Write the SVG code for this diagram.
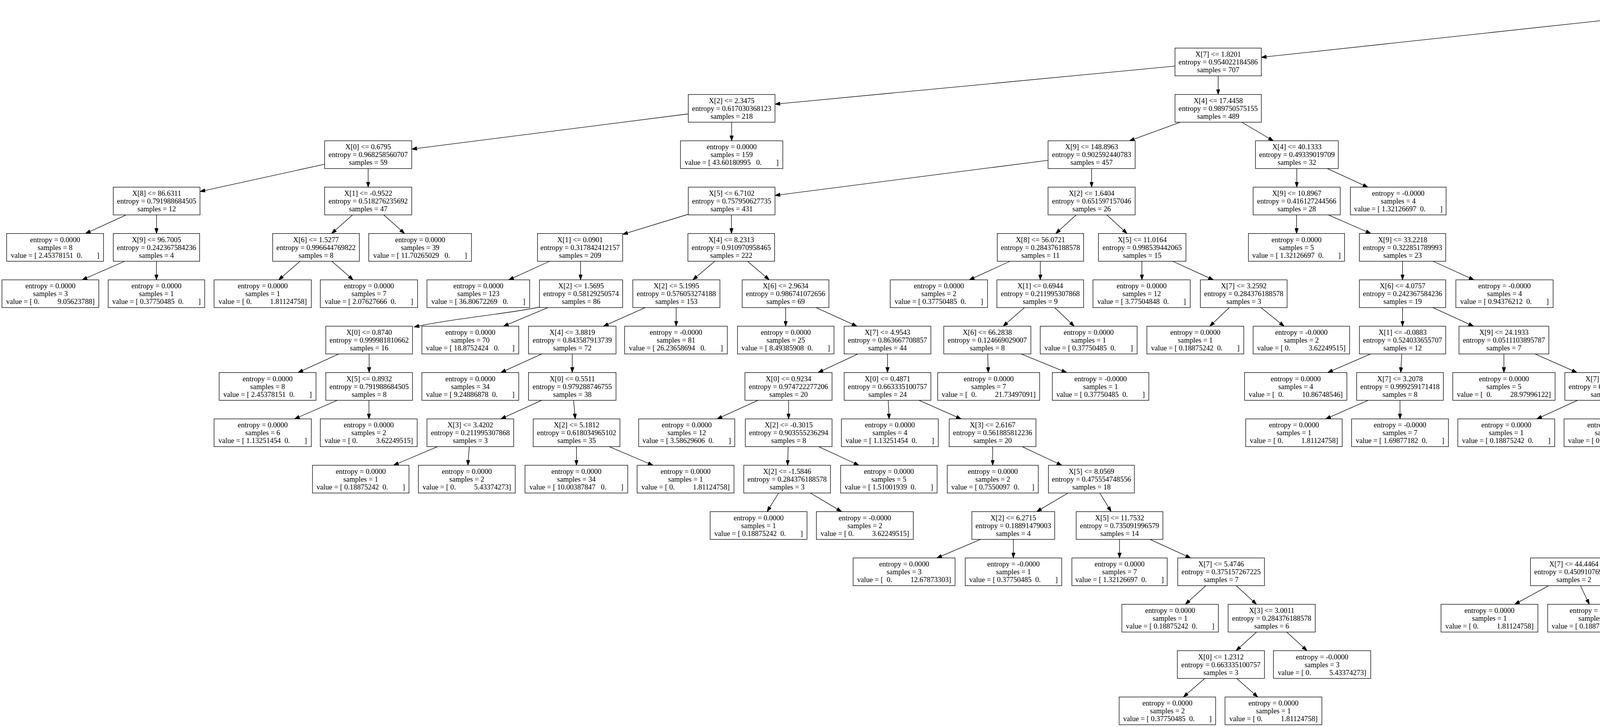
<svg xmlns="http://www.w3.org/2000/svg" width="7716" height="1861" viewBox="0 0 7716 1861" xml:space="preserve">
<style>
.n rect{fill:#fff;stroke:#000;stroke-width:1.33}
.n text{font-family:"Liberation Serif","Times New Roman",serif;font-size:18.67px;text-anchor:middle;fill:#000;white-space:pre}
.e line,.e path{stroke:#000;stroke-width:1.33;fill:none;marker-end:url(#arr)}
</style>
<defs><marker id="arr" markerUnits="userSpaceOnUse" viewBox="0 0 13.3 9.4" markerWidth="13.3" markerHeight="9.4" refX="13.3" refY="4.7" orient="auto"><path d="M0,0 L13.3,4.7 L0,9.4 z" fill="#000" stroke="#000" stroke-width="1"/></marker></defs>
<rect width="7716" height="1861" fill="#fff"/>
<g id="edges" class="e">
<line x1="4144" y1="48" x2="3229" y2="146.7"/>
<line x1="4293" y1="48" x2="5208" y2="146.6"/>
<line x1="3008" y1="169.2" x2="1984" y2="266.7"/>
<line x1="3118.5" y1="194.15" x2="3118.5" y2="241.8"/>
<line x1="5319.5" y1="194.15" x2="5319.5" y2="241.8"/>
<line x1="5431" y1="180.9" x2="5808" y2="256.1"/>
<line x1="1762" y1="291.5" x2="1054" y2="381.7"/>
<line x1="1873" y1="312.8" x2="1873" y2="360.45"/>
<line x1="3021.6" y1="312.8" x2="2891.4" y2="360.45"/>
<line x1="3178.8" y1="312.8" x2="3259.7" y2="360.45"/>
<line x1="5280.8" y1="312.8" x2="5228.7" y2="360.45"/>
<line x1="5358.7" y1="312.8" x2="5411.3" y2="360.45"/>
<line x1="5914" y1="312.8" x2="5914" y2="360.45"/>
<line x1="6020" y1="304.1" x2="6272" y2="367.8"/>
<line x1="831" y1="420.4" x2="512" y2="490.3"/>
<line x1="942.5" y1="431.45" x2="942.5" y2="479.1"/>
<line x1="2683" y1="410.3" x2="1984" y2="500.3"/>
<line x1="2794.5" y1="431.45" x2="2794.5" y2="479.1"/>
<line x1="3319.75" y1="431.45" x2="3319.75" y2="479.1"/>
<line x1="3397.6" y1="431.45" x2="3501.9" y2="479.1"/>
<line x1="5112.4" y1="431.45" x2="5008.1" y2="479.1"/>
<line x1="5190" y1="431.45" x2="5190" y2="479.1"/>
<line x1="5450.5" y1="431.45" x2="5450.5" y2="479.1"/>
<line x1="5528.1" y1="431.45" x2="5632.4" y2="479.1"/>
<line x1="6383.5" y1="431.45" x2="6383.5" y2="479.1"/>
<line x1="6495" y1="429.5" x2="6666" y2="481"/>
<line x1="323.2" y1="550.1" x2="218.8" y2="597.75"/>
<line x1="400.75" y1="550.1" x2="400.75" y2="597.75"/>
<line x1="902.6" y1="550.1" x2="848.9" y2="597.75"/>
<line x1="982.3" y1="550.1" x2="1035.7" y2="597.75"/>
<line x1="1762" y1="548.5" x2="1594" y2="599.9"/>
<line x1="1872.5" y1="550.1" x2="1872.5" y2="597.75"/>
<line x1="2755.3" y1="550.1" x2="2702.7" y2="597.75"/>
<line x1="2833.2" y1="550.1" x2="2885.3" y2="597.75"/>
<line x1="3319.25" y1="550.1" x2="3319.25" y2="597.75"/>
<line x1="3400.6" y1="550.1" x2="3509.4" y2="597.75"/>
<line x1="5109.8" y1="550.1" x2="5002.2" y2="597.75"/>
<line x1="5190.25" y1="550.1" x2="5190.25" y2="597.75"/>
<line x1="5709.75" y1="550.1" x2="5709.75" y2="597.75"/>
<line x1="5787.9" y1="550.1" x2="5892.6" y2="597.75"/>
<line x1="6343.3" y1="550.1" x2="6289.2" y2="597.75"/>
<line x1="6423.3" y1="550.1" x2="6476.7" y2="597.75"/>
<line x1="6776.75" y1="550.1" x2="6776.75" y2="597.75"/>
<line x1="6855.1" y1="550.1" x2="6959.4" y2="597.75"/>
<line x1="319.3" y1="668.75" x2="210.2" y2="716.4"/>
<line x1="400.5" y1="668.75" x2="400.5" y2="716.4"/>
<line x1="768.2" y1="668.75" x2="713.3" y2="716.4"/>
<line x1="849.5" y1="668.75" x2="904" y2="716.4"/>
<line x1="1407.1" y1="668.75" x2="1302.4" y2="716.4"/>
<line x1="1486.25" y1="668.75" x2="1486.25" y2="716.4"/>
<line x1="1830" y1="668.75" x2="1773.5" y2="716.4"/>
<line x1="1913.6" y1="668.75" x2="1969.4" y2="716.4"/>
<line x1="2585.7" y1="668.75" x2="2481.3" y2="716.4"/>
<line x1="2663.25" y1="668.75" x2="2663.25" y2="716.4"/>
<line x1="2923.25" y1="668.75" x2="2923.25" y2="716.4"/>
<line x1="3001.8" y1="668.75" x2="3106.2" y2="716.4"/>
<line x1="3590.5" y1="668.75" x2="3590.5" y2="716.4"/>
<line x1="3668.6" y1="668.75" x2="3773.4" y2="716.4"/>
<line x1="4838.4" y1="668.75" x2="4726.1" y2="716.4"/>
<line x1="4921.75" y1="668.75" x2="4921.75" y2="716.4"/>
<line x1="5190" y1="668.75" x2="5190" y2="716.4"/>
<line x1="5268.4" y1="668.75" x2="5373.1" y2="716.4"/>
<line x1="5710.5" y1="668.75" x2="5710.5" y2="716.4"/>
<line x1="5790.3" y1="668.75" x2="5898.7" y2="716.4"/>
<line x1="6464" y1="668.75" x2="6393.5" y2="716.4"/>
<line x1="6545.2" y1="668.75" x2="6583.8" y2="716.4"/>
<line x1="6998.7" y1="668.75" x2="6947.3" y2="716.4"/>
<line x1="7076.5" y1="668.75" x2="7129.5" y2="716.4"/>
<path d="M1381,786 C1310,802 1160,815 1060,837"/>
<line x1="1402.7" y1="787.4" x2="1288.8" y2="835.05"/>
<line x1="1651.8" y1="787.4" x2="1544.7" y2="835.05"/>
<line x1="1731" y1="787.4" x2="1731" y2="835.05"/>
<line x1="2011.25" y1="787.4" x2="2011.25" y2="835.05"/>
<line x1="2089.1" y1="787.4" x2="2193.9" y2="835.05"/>
<line x1="2622.5" y1="787.4" x2="2568" y2="835.05"/>
<line x1="2700.1" y1="787.4" x2="2749.9" y2="835.05"/>
<line x1="3146.9" y1="787.4" x2="3097.1" y2="835.05"/>
<line x1="3228.1" y1="787.4" x2="3287.4" y2="835.05"/>
<line x1="3590.5" y1="787.4" x2="3590.5" y2="835.05"/>
<line x1="3668.1" y1="787.4" x2="3772.4" y2="835.05"/>
<line x1="5109.8" y1="787.4" x2="5002.7" y2="835.05"/>
<line x1="5188" y1="787.4" x2="5188" y2="835.05"/>
<line x1="5451.75" y1="787.4" x2="5451.75" y2="835.05"/>
<line x1="5531.5" y1="787.4" x2="5639.5" y2="835.05"/>
<line x1="5979.5" y1="787.4" x2="5979.5" y2="835.05"/>
<line x1="6061" y1="787.4" x2="6170.5" y2="835.05"/>
<line x1="7122.8" y1="787.4" x2="7060.7" y2="835.05"/>
<line x1="7197.3" y1="787.4" x2="7235.2" y2="835.05"/>
<line x1="867.2" y1="906.05" x2="762.8" y2="953.7"/>
<line x1="945" y1="906.05" x2="945" y2="953.7"/>
<line x1="1386.9" y1="906.05" x2="1282.1" y2="953.7"/>
<line x1="1465" y1="906.05" x2="1465" y2="953.7"/>
<line x1="2196.2" y1="906.05" x2="2094.3" y2="953.7"/>
<line x1="2272" y1="906.05" x2="2272" y2="953.7"/>
<line x1="2528.5" y1="906.05" x2="2530" y2="953.7"/>
<line x1="2614.3" y1="906.05" x2="2730.7" y2="953.7"/>
<line x1="3508.7" y1="906.05" x2="3398.8" y2="953.7"/>
<line x1="3588.6" y1="906.05" x2="3585.9" y2="953.7"/>
<line x1="3850" y1="906.05" x2="3850" y2="953.7"/>
<line x1="3929.9" y1="906.05" x2="4037.1" y2="953.7"/>
<line x1="4844" y1="906.05" x2="4738" y2="953.7"/>
<line x1="4923" y1="906.05" x2="4923" y2="953.7"/>
<line x1="5186.5" y1="906.05" x2="5186.5" y2="953.7"/>
<line x1="5262" y1="906.05" x2="5363.5" y2="953.7"/>
<line x1="5719.75" y1="906.05" x2="5719.75" y2="953.7"/>
<line x1="5798.8" y1="906.05" x2="5904.7" y2="953.7"/>
<line x1="6938.7" y1="906.05" x2="6836.8" y2="953.7"/>
<line x1="7016.3" y1="906.05" x2="7018.7" y2="953.7"/>
<line x1="7263.75" y1="906.05" x2="7263.75" y2="953.7"/>
<line x1="7339.2" y1="906.05" x2="7440.8" y2="953.7"/>
<line x1="863.5" y1="1024.7" x2="754" y2="1072.35"/>
<line x1="944.5" y1="1024.7" x2="944.5" y2="1072.35"/>
<line x1="1386.9" y1="1024.7" x2="1282.1" y2="1072.35"/>
<line x1="1468.3" y1="1024.7" x2="1472.7" y2="1072.35"/>
<line x1="1940.6" y1="1024.7" x2="1835.9" y2="1072.35"/>
<line x1="2018.75" y1="1024.7" x2="2018.75" y2="1072.35"/>
<line x1="2273.8" y1="1024.7" x2="2276.2" y2="1072.35"/>
<line x1="2352.5" y1="1024.7" x2="2460.5" y2="1072.35"/>
<line x1="3502.8" y1="1024.7" x2="3393.7" y2="1072.35"/>
<line x1="3584" y1="1024.7" x2="3584" y2="1072.35"/>
<line x1="4038.9" y1="1024.7" x2="3934.1" y2="1072.35"/>
<line x1="4120.1" y1="1024.7" x2="4124.4" y2="1072.35"/>
<line x1="4581.2" y1="1024.7" x2="4476.8" y2="1072.35"/>
<line x1="4659" y1="1024.7" x2="4659" y2="1072.35"/>
<line x1="5186.5" y1="1024.7" x2="5186.5" y2="1072.35"/>
<line x1="5266.2" y1="1024.7" x2="5373.3" y2="1072.35"/>
<line x1="5719" y1="1024.7" x2="5719" y2="1072.35"/>
<line x1="5799.4" y1="1024.7" x2="5906.6" y2="1072.35"/>
<line x1="6946.6" y1="1024.7" x2="6847.4" y2="1072.35"/>
<line x1="7022.1" y1="1024.7" x2="7024.4" y2="1072.35"/>
<line x1="7459.7" y1="1024.7" x2="7383.3" y2="1072.35"/>
<line x1="7537.3" y1="1024.7" x2="7565.2" y2="1072.35"/>
<line x1="1120.1" y1="1143.35" x2="1007.4" y2="1191"/>
<line x1="1201.3" y1="1143.35" x2="1197.7" y2="1191"/>
<line x1="1475.75" y1="1143.35" x2="1475.75" y2="1191"/>
<line x1="1559.5" y1="1143.35" x2="1671.5" y2="1191"/>
<line x1="2017.8" y1="1143.35" x2="2016.2" y2="1191"/>
<line x1="2095.7" y1="1143.35" x2="2198.8" y2="1191"/>
<line x1="2541.25" y1="1143.35" x2="2541.25" y2="1191"/>
<line x1="2616.7" y1="1143.35" x2="2718.3" y2="1191"/>
<line x1="4584.2" y1="1143.35" x2="4483.8" y2="1191"/>
<line x1="4657.75" y1="1143.35" x2="4657.75" y2="1191"/>
<line x1="5107.7" y1="1143.35" x2="5001.8" y2="1191"/>
<line x1="5188.6" y1="1143.35" x2="5191.4" y2="1191"/>
<line x1="5453.75" y1="1143.35" x2="5453.75" y2="1191"/>
<line x1="5531.2" y1="1143.35" x2="5636.3" y2="1191"/>
<line x1="5986.25" y1="1143.35" x2="5986.25" y2="1191"/>
<line x1="6068" y1="1143.35" x2="6177.5" y2="1191"/>
<line x1="6717.4" y1="1143.35" x2="6642.1" y2="1191"/>
<line x1="6798.6" y1="1143.35" x2="6832.4" y2="1191"/>
<line x1="7301.4" y1="1143.35" x2="7267.6" y2="1191"/>
<line x1="7382.6" y1="1143.35" x2="7457.9" y2="1191"/>
<line x1="1993.2" y1="1262" x2="1963.8" y2="1309.65"/>
<line x1="2074.5" y1="1262" x2="2154.5" y2="1309.65"/>
<line x1="2734.2" y1="1262" x2="2653.8" y2="1309.65"/>
<line x1="2815.5" y1="1262" x2="2844.5" y2="1309.65"/>
<line x1="4371.2" y1="1262" x2="4320.3" y2="1309.65"/>
<line x1="4446.8" y1="1262" x2="4497.7" y2="1309.65"/>
<line x1="5412.8" y1="1262" x2="5356.7" y2="1309.65"/>
<line x1="5496.1" y1="1262" x2="5551.9" y2="1309.65"/>
<line x1="2510.4" y1="1380.65" x2="2398.1" y2="1428.3"/>
<line x1="2594.25" y1="1380.65" x2="2594.25" y2="1428.3"/>
<line x1="2866" y1="1380.65" x2="2866" y2="1428.3"/>
<line x1="2943.8" y1="1380.65" x2="3048.2" y2="1428.3"/>
<line x1="4206.7" y1="1380.65" x2="4104.8" y2="1428.3"/>
<line x1="4282.5" y1="1380.65" x2="4282.5" y2="1428.3"/>
<line x1="4535.5" y1="1380.65" x2="4535.5" y2="1428.3"/>
<line x1="4615.1" y1="1380.65" x2="4721.9" y2="1428.3"/>
<line x1="3087" y1="1499.3" x2="3034.5" y2="1546.95"/>
<line x1="3164.7" y1="1499.3" x2="3216.8" y2="1546.95"/>
<line x1="3964.4" y1="1499.3" x2="3877.6" y2="1546.95"/>
<line x1="4045.9" y1="1499.3" x2="4068.6" y2="1546.95"/>
<line x1="4518.3" y1="1499.3" x2="4495.2" y2="1546.95"/>
<line x1="4602.1" y1="1499.3" x2="4691.4" y2="1546.95"/>
<line x1="3216.6" y1="1617.95" x2="3164.4" y2="1665.6"/>
<line x1="3294.1" y1="1617.95" x2="3345.9" y2="1665.6"/>
<line x1="3084.5" y1="1736.6" x2="3029.5" y2="1784.25"/>
<line x1="3165.7" y1="1736.6" x2="3219.8" y2="1784.25"/>
</g>
<g id="nodes" class="n">
<g id="n0" transform="translate(4218.5 4.5)"><rect x="-74.5" width="149" height="71"/><text y="22">X[7] &lt;= 11.0355</text><text y="42">entropy = 1.0</text><text y="62">samples = 989</text></g>
<g id="n1" transform="translate(3118.5 123.15)"><rect x="-110.5" width="221" height="71"/><text y="22">X[7] &lt;= 1.8201</text><text y="42">entropy = 0.954022184586</text><text y="62">samples = 707</text></g>
<g id="n2" transform="translate(5319.5 123.15)"><rect x="-111.5" width="223" height="71"/><text y="22">X[2] &lt;= 4.2328</text><text y="42">entropy = 0.907354966354</text><text y="62">samples = 282</text></g>
<g id="n3" transform="translate(1873 241.8)"><rect x="-111" width="222" height="71"/><text y="22">X[2] &lt;= 2.3475</text><text y="42">entropy = 0.617030368123</text><text y="62">samples = 218</text></g>
<g id="n4" transform="translate(3118.5 241.8)"><rect x="-110.5" width="221" height="71"/><text y="22">X[4] &lt;= 17.4458</text><text y="42">entropy = 0.989750575155</text><text y="62">samples = 489</text></g>
<g id="n5" transform="translate(5319.5 241.8)"><rect x="-111.5" width="223" height="71"/><text y="22">X[1] &lt;= 0.2014</text><text y="42">entropy = 0.738921728024</text><text y="62">samples = 144</text></g>
<g id="n6" transform="translate(5914 241.8)"><rect x="-106" width="212" height="71"/><text y="22">X[9] &lt;= 7.8979</text><text y="42">entropy = 0.98356584352</text><text y="62">samples = 138</text></g>
<g id="n7" transform="translate(942.5 360.45)"><rect x="-111.5" width="223" height="71"/><text y="22">X[0] &lt;= 0.6795</text><text y="42">entropy = 0.968258560707</text><text y="62">samples = 59</text></g>
<g id="n8" transform="translate(1873 360.45)"><rect x="-131" width="262" height="71"/><text y="22">entropy = 0.0000</text><text y="42">samples = 159</text><text y="62">value = [ 43.60180995   0.        ]</text></g>
<g id="n9" transform="translate(2794.5 360.45)"><rect x="-111.5" width="223" height="71"/><text y="22">X[9] &lt;= 148.8963</text><text y="42">entropy = 0.902592440783</text><text y="62">samples = 457</text></g>
<g id="n10" transform="translate(3320 360.45)"><rect x="-106" width="212" height="71"/><text y="22">X[4] &lt;= 40.1333</text><text y="42">entropy = 0.49339019709</text><text y="62">samples = 32</text></g>
<g id="n11" transform="translate(5190 360.45)"><rect x="-111" width="222" height="71"/><text y="22">X[6] &lt;= 1.0680</text><text y="42">entropy = 0.597508438212</text><text y="62">samples = 96</text></g>
<g id="n12" transform="translate(5450.5 360.45)"><rect x="-106.5" width="213" height="71"/><text y="22">X[6] &lt;= 2.7206</text><text y="42">entropy = 0.94890263836</text><text y="62">samples = 48</text></g>
<g id="n13" transform="translate(5914 360.45)"><rect x="-131" width="262" height="71"/><text y="22">entropy = 0.0000</text><text y="42">samples = 28</text><text y="62">value = [ 10.75888817   0.        ]</text></g>
<g id="n14" transform="translate(6383.5 360.45)"><rect x="-111.5" width="223" height="71"/><text y="22">X[9] &lt;= 13.8934</text><text y="42">entropy = 0.999950045454</text><text y="62">samples = 110</text></g>
<g id="n15" transform="translate(401 479.1)"><rect x="-111" width="222" height="71"/><text y="22">X[8] &lt;= 86.6311</text><text y="42">entropy = 0.791988684505</text><text y="62">samples = 12</text></g>
<g id="n16" transform="translate(942.5 479.1)"><rect x="-111.5" width="223" height="71"/><text y="22">X[1] &lt;= -0.9522</text><text y="42">entropy = 0.518276235692</text><text y="62">samples = 47</text></g>
<g id="n17" transform="translate(1873 479.1)"><rect x="-111" width="222" height="71"/><text y="22">X[5] &lt;= 6.7102</text><text y="42">entropy = 0.757950627735</text><text y="62">samples = 431</text></g>
<g id="n18" transform="translate(2794.5 479.1)"><rect x="-111.5" width="223" height="71"/><text y="22">X[2] &lt;= 1.6404</text><text y="42">entropy = 0.651597157046</text><text y="62">samples = 26</text></g>
<g id="n19" transform="translate(3319.5 479.1)"><rect x="-111.5" width="223" height="71"/><text y="22">X[9] &lt;= 10.8967</text><text y="42">entropy = 0.416127244566</text><text y="62">samples = 28</text></g>
<g id="n20" transform="translate(3579.5 479.1)"><rect x="-122.5" width="245" height="71"/><text y="22">entropy = -0.0000</text><text y="42">samples = 4</text><text y="62">value = [ 1.32126697  0.        ]</text></g>
<g id="n21" transform="translate(4930.5 479.1)"><rect x="-123.5" width="247" height="71"/><text y="22">entropy = 0.0000</text><text y="42">samples = 3</text><text y="62">value = [ 0.          9.05623788]</text></g>
<g id="n22" transform="translate(5190 479.1)"><rect x="-111" width="222" height="71"/><text y="22">X[8] &lt;= 52.6871</text><text y="42">entropy = 0.624343025209</text><text y="62">samples = 93</text></g>
<g id="n23" transform="translate(5450.5 479.1)"><rect x="-123.5" width="247" height="71"/><text y="22">entropy = 0.0000</text><text y="42">samples = 23</text><text y="62">value = [ 6.41758242  0.        ]</text></g>
<g id="n24" transform="translate(5710 479.1)"><rect x="-111" width="222" height="71"/><text y="22">X[6] &lt;= 3.0070</text><text y="42">entropy = 0.994058102649</text><text y="62">samples = 25</text></g>
<g id="n25" transform="translate(6383.5 479.1)"><rect x="-111.5" width="223" height="71"/><text y="22">X[1] &lt;= -0.0407</text><text y="42">entropy = 0.663335100757</text><text y="62">samples = 21</text></g>
<g id="n26" transform="translate(6777.5 479.1)"><rect x="-111.5" width="223" height="71"/><text y="22">X[0] &lt;= 0.6689</text><text y="42">entropy = 0.843041243358</text><text y="62">samples = 89</text></g>
<g id="A" transform="translate(141 597.75)"><rect x="-124" width="248" height="71"/><text y="22">entropy = 0.0000</text><text y="42">samples = 8</text><text y="62">value = [ 2.45378151  0.        ]</text></g>
<g id="B" transform="translate(400.5 597.75)"><rect x="-110.5" width="221" height="71"/><text y="22">X[9] &lt;= 96.7005</text><text y="42">entropy = 0.242367584236</text><text y="62">samples = 4</text></g>
<g id="C" transform="translate(809 597.75)"><rect x="-111" width="222" height="71"/><text y="22">X[6] &lt;= 1.5277</text><text y="42">entropy = 0.996644769822</text><text y="62">samples = 8</text></g>
<g id="D" transform="translate(1075.5 597.75)"><rect x="-131.5" width="263" height="71"/><text y="22">entropy = 0.0000</text><text y="42">samples = 39</text><text y="62">value = [ 11.70265029   0.        ]</text></g>
<g id="E" transform="translate(1485 597.75)"><rect x="-109" width="218" height="71"/><text y="22">X[1] &lt;= 0.0901</text><text y="42">entropy = 0.317842412157</text><text y="62">samples = 209</text></g>
<g id="F" transform="translate(1872 597.75)"><rect x="-111" width="222" height="71"/><text y="22">X[4] &lt;= 8.2313</text><text y="42">entropy = 0.910970958465</text><text y="62">samples = 222</text></g>
<g id="BA" transform="translate(2663.5 597.75)"><rect x="-110.5" width="221" height="71"/><text y="22">X[8] &lt;= 56.0721</text><text y="42">entropy = 0.284376188578</text><text y="62">samples = 11</text></g>
<g id="BB" transform="translate(2924 597.75)"><rect x="-112" width="224" height="71"/><text y="22">X[5] &lt;= 11.0164</text><text y="42">entropy = 0.998539442065</text><text y="62">samples = 15</text></g>
<g id="BC" transform="translate(3319 597.75)"><rect x="-123" width="246" height="71"/><text y="22">entropy = 0.0000</text><text y="42">samples = 5</text><text y="62">value = [ 1.32126697  0.        ]</text></g>
<g id="BD" transform="translate(3590.5 597.75)"><rect x="-110.5" width="221" height="71"/><text y="22">X[9] &lt;= 33.2218</text><text y="42">entropy = 0.322851789993</text><text y="62">samples = 23</text></g>
<g id="DA" transform="translate(4922 597.75)"><rect x="-115" width="230" height="71"/><text y="22">X[8] &lt;= 41.8436</text><text y="42">entropy = 0.0902367814789</text><text y="62">samples = 4</text></g>
<g id="DB" transform="translate(5190.5 597.75)"><rect x="-111.5" width="223" height="71"/><text y="22">X[5] &lt;= 12.1820</text><text y="42">entropy = 0.676518989019</text><text y="62">samples = 89</text></g>
<g id="DC" transform="translate(5709.5 597.75)"><rect x="-110.5" width="221" height="71"/><text y="22">X[2] &lt;= 2.2306</text><text y="42">entropy = 0.170724623855</text><text y="62">samples = 4</text></g>
<g id="EP" transform="translate(5970.5 597.75)"><rect x="-123.5" width="247" height="71"/><text y="22">entropy = 0.0000</text><text y="42">samples = 21</text><text y="62">value = [ 5.85132515  0.        ]</text></g>
<g id="EQ" transform="translate(6249 597.75)"><rect x="-130" width="260" height="71"/><text y="22">entropy = 0.0000</text><text y="42">samples = 4</text><text y="62">value = [  0.          14.48998061]</text></g>
<g id="ER" transform="translate(6516.5 597.75)"><rect x="-111.5" width="223" height="71"/><text y="22">X[1] &lt;= 54.4970</text><text y="42">entropy = 0.987076807922</text><text y="62">samples = 17</text></g>
<g id="ES" transform="translate(6776 597.75)"><rect x="-123" width="246" height="71"/><text y="22">entropy = 0.0000</text><text y="42">samples = 25</text><text y="62">value = [ 7.17259211  0.        ]</text></g>
<g id="ET" transform="translate(7037 597.75)"><rect x="-111" width="222" height="71"/><text y="22">X[2] &lt;= 5.5699</text><text y="42">entropy = 0.929732925573</text><text y="62">samples = 64</text></g>
<g id="G" transform="translate(129 716.4)"><rect x="-124" width="248" height="71"/><text y="22">entropy = 0.0000</text><text y="42">samples = 3</text><text y="62">value = [ 0.          9.05623788]</text></g>
<g id="H" transform="translate(400.5 716.4)"><rect x="-123.5" width="247" height="71"/><text y="22">entropy = 0.0000</text><text y="42">samples = 1</text><text y="62">value = [ 0.37750485  0.        ]</text></g>
<g id="I" transform="translate(672.5 716.4)"><rect x="-124.5" width="249" height="71"/><text y="22">entropy = 0.0000</text><text y="42">samples = 1</text><text y="62">value = [ 0.          1.81124758]</text></g>
<g id="J" transform="translate(944.5 716.4)"><rect x="-124.5" width="249" height="71"/><text y="22">entropy = 0.0000</text><text y="42">samples = 7</text><text y="62">value = [ 2.07627666  0.        ]</text></g>
<g id="K" transform="translate(1224.5 716.4)"><rect x="-131.5" width="263" height="71"/><text y="22">entropy = 0.0000</text><text y="42">samples = 123</text><text y="62">value = [ 36.80672269   0.        ]</text></g>
<g id="L" transform="translate(1487.5 716.4)"><rect x="-106.5" width="213" height="71"/><text y="22">X[2] &lt;= 1.5695</text><text y="42">entropy = 0.58129250574</text><text y="62">samples = 86</text></g>
<g id="M" transform="translate(1731.5 716.4)"><rect x="-111.5" width="223" height="71"/><text y="22">X[2] &lt;= 5.1995</text><text y="42">entropy = 0.576053274188</text><text y="62">samples = 153</text></g>
<g id="N" transform="translate(2011 716.4)"><rect x="-111" width="222" height="71"/><text y="22">X[6] &lt;= 2.9634</text><text y="42">entropy = 0.986741072656</text><text y="62">samples = 69</text></g>
<g id="BE" transform="translate(2403.5 716.4)"><rect x="-124.5" width="249" height="71"/><text y="22">entropy = 0.0000</text><text y="42">samples = 2</text><text y="62">value = [ 0.37750485  0.        ]</text></g>
<g id="BF" transform="translate(2663 716.4)"><rect x="-111" width="222" height="71"/><text y="22">X[1] &lt;= 0.6944</text><text y="42">entropy = 0.211995307868</text><text y="62">samples = 9</text></g>
<g id="BG" transform="translate(2922.5 716.4)"><rect x="-124.5" width="249" height="71"/><text y="22">entropy = 0.0000</text><text y="42">samples = 12</text><text y="62">value = [ 3.77504848  0.        ]</text></g>
<g id="BH" transform="translate(3184 716.4)"><rect x="-111" width="222" height="71"/><text y="22">X[7] &lt;= 3.2592</text><text y="42">entropy = 0.284376188578</text><text y="62">samples = 3</text></g>
<g id="BI" transform="translate(3590.5 716.4)"><rect x="-110.5" width="221" height="71"/><text y="22">X[6] &lt;= 4.0757</text><text y="42">entropy = 0.242367584236</text><text y="62">samples = 19</text></g>
<g id="BJ" transform="translate(3851.5 716.4)"><rect x="-124.5" width="249" height="71"/><text y="22">entropy = -0.0000</text><text y="42">samples = 4</text><text y="62">value = [ 0.94376212  0.        ]</text></g>
<g id="DD" transform="translate(4642.5 716.4)"><rect x="-123.5" width="247" height="71"/><text y="22">entropy = 0.0000</text><text y="42">samples = 1</text><text y="62">value = [ 0.18875242  0.        ]</text></g>
<g id="DE" transform="translate(4921.5 716.4)"><rect x="-130.5" width="261" height="71"/><text y="22">entropy = 0.0000</text><text y="42">samples = 3</text><text y="62">value = [  0.          16.30122818]</text></g>
<g id="DF" transform="translate(5189.5 716.4)"><rect x="-110.5" width="221" height="71"/><text y="22">X[2] &lt;= 0.9026</text><text y="42">entropy = 0.821406328899</text><text y="62">samples = 77</text></g>
<g id="DG" transform="translate(5451 716.4)"><rect x="-111" width="222" height="71"/><text y="22">X[1] &lt;= -0.1263</text><text y="42">entropy = 0.149606672904</text><text y="62">samples = 12</text></g>
<g id="DH" transform="translate(5711.5 716.4)"><rect x="-123.5" width="247" height="71"/><text y="22">entropy = 0.0000</text><text y="42">samples = 2</text><text y="62">value = [ 0.          5.43374273]</text></g>
<g id="EU" transform="translate(5979.5 716.4)"><rect x="-110.5" width="221" height="71"/><text y="22">X[3] &lt;= 2.9400</text><text y="42">entropy = 0.450910769465</text><text y="62">samples = 2</text></g>
<g id="EV" transform="translate(6341 716.4)"><rect x="-124" width="248" height="71"/><text y="22">entropy = 0.0000</text><text y="42">samples = 16</text><text y="62">value = [ 4.15255333  0.        ]</text></g>
<g id="EW" transform="translate(6612.5 716.4)"><rect x="-123.5" width="247" height="71"/><text y="22">entropy = 0.0000</text><text y="42">samples = 1</text><text y="62">value = [ 0.          5.43374273]</text></g>
<g id="EX" transform="translate(6909 716.4)"><rect x="-124" width="248" height="71"/><text y="22">entropy = 0.0000</text><text y="42">samples = 27</text><text y="62">value = [ 8.49385908  0.        ]</text></g>
<g id="EY" transform="translate(7169 716.4)"><rect x="-111" width="222" height="71"/><text y="22">X[5] &lt;= 15.2323</text><text y="42">entropy = 0.999679962539</text><text y="62">samples = 37</text></g>
<g id="O" transform="translate(945 835.05)"><rect x="-111" width="222" height="71"/><text y="22">X[0] &lt;= 0.8740</text><text y="42">entropy = 0.999981810662</text><text y="62">samples = 16</text></g>
<g id="P" transform="translate(1204 835.05)"><rect x="-124" width="248" height="71"/><text y="22">entropy = 0.0000</text><text y="42">samples = 70</text><text y="62">value = [ 18.8752424   0.       ]</text></g>
<g id="Q" transform="translate(1465 835.05)"><rect x="-112" width="224" height="71"/><text y="22">X[4] &lt;= 3.8819</text><text y="42">entropy = 0.843587913739</text><text y="62">samples = 72</text></g>
<g id="R" transform="translate(1730.5 835.05)"><rect x="-131.5" width="263" height="71"/><text y="22">entropy = -0.0000</text><text y="42">samples = 81</text><text y="62">value = [ 26.23658694   0.        ]</text></g>
<g id="S" transform="translate(2011.5 835.05)"><rect x="-123.5" width="247" height="71"/><text y="22">entropy = 0.0000</text><text y="42">samples = 25</text><text y="62">value = [ 8.49385908  0.        ]</text></g>
<g id="BK" transform="translate(2272 835.05)"><rect x="-111" width="222" height="71"/><text y="22">X[7] &lt;= 4.9543</text><text y="42">entropy = 0.863667708857</text><text y="62">samples = 44</text></g>
<g id="BL" transform="translate(2527.5 835.05)"><rect x="-111.5" width="223" height="71"/><text y="22">X[6] &lt;= 66.2838</text><text y="42">entropy = 0.124669029007</text><text y="62">samples = 8</text></g>
<g id="BM" transform="translate(2787 835.05)"><rect x="-124" width="248" height="71"/><text y="22">entropy = 0.0000</text><text y="42">samples = 1</text><text y="62">value = [ 0.37750485  0.        ]</text></g>
<g id="BN" transform="translate(3060 835.05)"><rect x="-124" width="248" height="71"/><text y="22">entropy = 0.0000</text><text y="42">samples = 1</text><text y="62">value = [ 0.18875242  0.        ]</text></g>
<g id="BO" transform="translate(3331.5 835.05)"><rect x="-123.5" width="247" height="71"/><text y="22">entropy = -0.0000</text><text y="42">samples = 2</text><text y="62">value = [ 0.          3.62249515]</text></g>
<g id="BP" transform="translate(3590.5 835.05)"><rect x="-110.5" width="221" height="71"/><text y="22">X[1] &lt;= -0.0883</text><text y="42">entropy = 0.524033655707</text><text y="62">samples = 12</text></g>
<g id="BQ" transform="translate(3850 835.05)"><rect x="-115" width="230" height="71"/><text y="22">X[9] &lt;= 24.1933</text><text y="42">entropy = 0.0511103895787</text><text y="62">samples = 7</text></g>
<g id="DI" transform="translate(4923 835.05)"><rect x="-111" width="222" height="71"/><text y="22">X[5] &lt;= 5.1550</text><text y="42">entropy = 0.598934173341</text><text y="62">samples = 31</text></g>
<g id="DJ" transform="translate(5186.5 835.05)"><rect x="-111.5" width="223" height="71"/><text y="22">X[8] &lt;= 110.3907</text><text y="42">entropy = 0.997704988686</text><text y="62">samples = 46</text></g>
<g id="DK" transform="translate(5452.5 835.05)"><rect x="-130.5" width="261" height="71"/><text y="22">entropy = 0.0000</text><text y="42">samples = 4</text><text y="62">value = [  0.          18.11247576]</text></g>
<g id="DL" transform="translate(5720 835.05)"><rect x="-112" width="224" height="71"/><text y="22">X[8] &lt;= 112.4653</text><text y="42">entropy = 0.261520386201</text><text y="62">samples = 8</text></g>
<g id="EZ" transform="translate(5979.5 835.05)"><rect x="-123.5" width="247" height="71"/><text y="22">entropy = 0.0000</text><text y="42">samples = 1</text><text y="62">value = [ 0.          1.81124758]</text></g>
<g id="FA" transform="translate(6252 835.05)"><rect x="-123" width="246" height="71"/><text y="22">entropy = -0.0000</text><text y="42">samples = 1</text><text y="62">value = [ 0.18875242  0.        ]</text></g>
<g id="FB" transform="translate(7014.5 835.05)"><rect x="-110.5" width="221" height="71"/><text y="22">X[5] &lt;= -2.2148</text><text y="42">entropy = 0.920515158544</text><text y="62">samples = 27</text></g>
<g id="FC" transform="translate(7263.5 835.05)"><rect x="-110.5" width="221" height="71"/><text y="22">X[4] &lt;= 0.5853</text><text y="42">entropy = 0.75551002592</text><text y="62">samples = 10</text></g>
<g id="T" transform="translate(685 953.7)"><rect x="-124" width="248" height="71"/><text y="22">entropy = 0.0000</text><text y="42">samples = 8</text><text y="62">value = [ 2.45378151  0.        ]</text></g>
<g id="U" transform="translate(945 953.7)"><rect x="-111" width="222" height="71"/><text y="22">X[5] &lt;= 0.8932</text><text y="42">entropy = 0.791988684505</text><text y="62">samples = 8</text></g>
<g id="V" transform="translate(1204 953.7)"><rect x="-124" width="248" height="71"/><text y="22">entropy = 0.0000</text><text y="42">samples = 34</text><text y="62">value = [ 9.24886878  0.        ]</text></g>
<g id="W" transform="translate(1465 953.7)"><rect x="-112" width="224" height="71"/><text y="22">X[0] &lt;= 0.5511</text><text y="42">entropy = 0.979288746755</text><text y="62">samples = 38</text></g>
<g id="X" transform="translate(2018.5 953.7)"><rect x="-111.5" width="223" height="71"/><text y="22">X[0] &lt;= 0.9234</text><text y="42">entropy = 0.974722277206</text><text y="62">samples = 20</text></g>
<g id="BR" transform="translate(2272 953.7)"><rect x="-111" width="222" height="71"/><text y="22">X[0] &lt;= 0.4871</text><text y="42">entropy = 0.663335100757</text><text y="62">samples = 24</text></g>
<g id="BS" transform="translate(2531 953.7)"><rect x="-130.5" width="261" height="71"/><text y="22">entropy = 0.0000</text><text y="42">samples = 7</text><text y="62">value = [  0.          21.73497091]</text></g>
<g id="BT" transform="translate(2817.5 953.7)"><rect x="-123.5" width="247" height="71"/><text y="22">entropy = -0.0000</text><text y="42">samples = 1</text><text y="62">value = [ 0.37750485  0.        ]</text></g>
<g id="BU" transform="translate(3317 953.7)"><rect x="-131" width="262" height="71"/><text y="22">entropy = 0.0000</text><text y="42">samples = 4</text><text y="62">value = [  0.          10.86748546]</text></g>
<g id="BV" transform="translate(3584 953.7)"><rect x="-111" width="222" height="71"/><text y="22">X[7] &lt;= 3.2078</text><text y="42">entropy = 0.999259171418</text><text y="62">samples = 8</text></g>
<g id="BW" transform="translate(3850 953.7)"><rect x="-131" width="262" height="71"/><text y="22">entropy = 0.0000</text><text y="42">samples = 5</text><text y="62">value = [  0.          28.97996122]</text></g>
<g id="DM" transform="translate(4117 953.7)"><rect x="-111" width="222" height="71"/><text y="22">X[7] &lt;= 7.5217</text><text y="42">entropy = 0.284376188578</text><text y="62">samples = 2</text></g>
<g id="DN" transform="translate(4659 953.7)"><rect x="-111" width="222" height="71"/><text y="22">X[1] &lt;= -0.6134</text><text y="42">entropy = 0.424810811607</text><text y="62">samples = 24</text></g>
<g id="DO" transform="translate(4923 953.7)"><rect x="-123" width="246" height="71"/><text y="22">entropy = 0.0000</text><text y="42">samples = 7</text><text y="62">value = [ 3.02003878  0.        ]</text></g>
<g id="DP" transform="translate(5186.5 953.7)"><rect x="-111.5" width="223" height="71"/><text y="22">X[8] &lt;= 99.0365</text><text y="42">entropy = 0.899727373599</text><text y="62">samples = 27</text></g>
<g id="DQ" transform="translate(5439 953.7)"><rect x="-117" width="234" height="71"/><text y="22">entropy = 0.0000</text><text y="42">samples = 19</text><text y="62">value = [ 5.4738203  0.       ]</text></g>
<g id="DR" transform="translate(5719.5 953.7)"><rect x="-115.5" width="231" height="71"/><text y="22">X[1] &lt;= 0.0710</text><text y="42">entropy = 0.0902367814789</text><text y="62">samples = 5</text></g>
<g id="FD" transform="translate(5983.5 953.7)"><rect x="-123.5" width="247" height="71"/><text y="22">entropy = -0.0000</text><text y="42">samples = 3</text><text y="62">value = [ 0.56625727  0.        ]</text></g>
<g id="FE" transform="translate(6761 953.7)"><rect x="-124" width="248" height="71"/><text y="22">entropy = 0.0000</text><text y="42">samples = 1</text><text y="62">value = [ 0.          1.81124758]</text></g>
<g id="FF" transform="translate(7020.5 953.7)"><rect x="-110.5" width="221" height="71"/><text y="22">X[6] &lt;= 2.7687</text><text y="42">entropy = 0.72513989218</text><text y="62">samples = 26</text></g>
<g id="FG" transform="translate(7264 953.7)"><rect x="-117" width="234" height="71"/><text y="22">entropy = 0.0000</text><text y="42">samples = 4</text><text y="62">value = [ 0.7550097  0.       ]</text></g>
<g id="FH" transform="translate(7516.5 953.7)"><rect x="-110.5" width="221" height="71"/><text y="22">X[6] &lt;= 8.1896</text><text y="42">entropy = 0.535074282396</text><text y="62">samples = 6</text></g>
<g id="Y" transform="translate(672.5 1072.35)"><rect x="-124.5" width="249" height="71"/><text y="22">entropy = 0.0000</text><text y="42">samples = 6</text><text y="62">value = [ 1.13251454  0.        ]</text></g>
<g id="Z" transform="translate(944 1072.35)"><rect x="-124" width="248" height="71"/><text y="22">entropy = 0.0000</text><text y="42">samples = 2</text><text y="62">value = [ 0.          3.62249515]</text></g>
<g id="AA" transform="translate(1204 1072.35)"><rect x="-111" width="222" height="71"/><text y="22">X[3] &lt;= 3.4202</text><text y="42">entropy = 0.211995307868</text><text y="62">samples = 3</text></g>
<g id="AB" transform="translate(1476 1072.35)"><rect x="-111" width="222" height="71"/><text y="22">X[2] &lt;= 5.1812</text><text y="42">entropy = 0.618034965102</text><text y="62">samples = 35</text></g>
<g id="AC" transform="translate(1758 1072.35)"><rect x="-123" width="246" height="71"/><text y="22">entropy = 0.0000</text><text y="42">samples = 12</text><text y="62">value = [ 3.58629606  0.        ]</text></g>
<g id="AD" transform="translate(2019 1072.35)"><rect x="-111" width="222" height="71"/><text y="22">X[2] &lt;= -0.3015</text><text y="42">entropy = 0.903555236294</text><text y="62">samples = 8</text></g>
<g id="BX" transform="translate(2278 1072.35)"><rect x="-124" width="248" height="71"/><text y="22">entropy = 0.0000</text><text y="42">samples = 4</text><text y="62">value = [ 1.13251454  0.        ]</text></g>
<g id="BY" transform="translate(2541 1072.35)"><rect x="-111" width="222" height="71"/><text y="22">X[3] &lt;= 2.6167</text><text y="42">entropy = 0.561885812236</text><text y="62">samples = 20</text></g>
<g id="BZ" transform="translate(3312.5 1072.35)"><rect x="-123.5" width="247" height="71"/><text y="22">entropy = 0.0000</text><text y="42">samples = 1</text><text y="62">value = [ 0.          1.81124758]</text></g>
<g id="CA" transform="translate(3584 1072.35)"><rect x="-124" width="248" height="71"/><text y="22">entropy = -0.0000</text><text y="42">samples = 7</text><text y="62">value = [ 1.69877182  0.        ]</text></g>
<g id="CB" transform="translate(3856 1072.35)"><rect x="-124" width="248" height="71"/><text y="22">entropy = 0.0000</text><text y="42">samples = 1</text><text y="62">value = [ 0.18875242  0.        ]</text></g>
<g id="DS" transform="translate(4127.5 1072.35)"><rect x="-123.5" width="247" height="71"/><text y="22">entropy = 0.0000</text><text y="42">samples = 1</text><text y="62">value = [ 0.          3.62249515]</text></g>
<g id="DT" transform="translate(4399 1072.35)"><rect x="-124" width="248" height="71"/><text y="22">entropy = 0.0000</text><text y="42">samples = 4</text><text y="62">value = [ 1.51001939  0.        ]</text></g>
<g id="DU" transform="translate(4659 1072.35)"><rect x="-111" width="222" height="71"/><text y="22">X[9] &lt;= 43.3912</text><text y="42">entropy = 0.302263753974</text><text y="62">samples = 20</text></g>
<g id="DV" transform="translate(5186.5 1072.35)"><rect x="-111.5" width="223" height="71"/><text y="22">X[3] &lt;= 3.6590</text><text y="42">entropy = 0.863005038908</text><text y="62">samples = 19</text></g>
<g id="DW" transform="translate(5453 1072.35)"><rect x="-111" width="222" height="71"/><text y="22">X[6] &lt;= 6.8121</text><text y="42">entropy = 0.495072479648</text><text y="62">samples = 8</text></g>
<g id="DX" transform="translate(5718.5 1072.35)"><rect x="-130.5" width="261" height="71"/><text y="22">entropy = 0.0000</text><text y="42">samples = 3</text><text y="62">value = [  0.          12.67873303]</text></g>
<g id="FI" transform="translate(5986.5 1072.35)"><rect x="-110.5" width="221" height="71"/><text y="22">X[3] &lt;= 3.5148</text><text y="42">entropy = 0.284376188578</text><text y="62">samples = 2</text></g>
<g id="FJ" transform="translate(6773.5 1072.35)"><rect x="-111.5" width="223" height="71"/><text y="22">X[6] &lt;= 2.4498</text><text y="42">entropy = 0.943348135878</text><text y="62">samples = 10</text></g>
<g id="FK" transform="translate(7026 1072.35)"><rect x="-118" width="236" height="71"/><text y="22">entropy = -0.0000</text><text y="42">samples = 16</text><text y="62">value = [ 3.9638009  0.       ]</text></g>
<g id="FL" transform="translate(7326.5 1072.35)"><rect x="-110.5" width="221" height="71"/><text y="22">X[1] &lt;= -0.1200</text><text y="42">entropy = 0.211995307868</text><text y="62">samples = 4</text></g>
<g id="FM" transform="translate(7586 1072.35)"><rect x="-123" width="246" height="71"/><text y="22">entropy = 0.0000</text><text y="42">samples = 2</text><text y="62">value = [ 0.56625727  0.        ]</text></g>
<g id="AE" transform="translate(923.5 1191)"><rect x="-123.5" width="247" height="71"/><text y="22">entropy = 0.0000</text><text y="42">samples = 1</text><text y="62">value = [ 0.18875242  0.        ]</text></g>
<g id="AF" transform="translate(1195 1191)"><rect x="-124" width="248" height="71"/><text y="22">entropy = 0.0000</text><text y="42">samples = 2</text><text y="62">value = [ 0.          5.43374273]</text></g>
<g id="AG" transform="translate(1475.5 1191)"><rect x="-131.5" width="263" height="71"/><text y="22">entropy = 0.0000</text><text y="42">samples = 34</text><text y="62">value = [ 10.00387847   0.        ]</text></g>
<g id="AH" transform="translate(1755 1191)"><rect x="-124" width="248" height="71"/><text y="22">entropy = 0.0000</text><text y="42">samples = 1</text><text y="62">value = [ 0.          1.81124758]</text></g>
<g id="AI" transform="translate(2015 1191)"><rect x="-111" width="222" height="71"/><text y="22">X[2] &lt;= -1.5846</text><text y="42">entropy = 0.284376188578</text><text y="62">samples = 3</text></g>
<g id="CC" transform="translate(2275.5 1191)"><rect x="-123.5" width="247" height="71"/><text y="22">entropy = 0.0000</text><text y="42">samples = 5</text><text y="62">value = [ 1.51001939  0.        ]</text></g>
<g id="CD" transform="translate(2541.5 1191)"><rect x="-116.5" width="233" height="71"/><text y="22">entropy = 0.0000</text><text y="42">samples = 2</text><text y="62">value = [ 0.7550097  0.       ]</text></g>
<g id="CE" transform="translate(2794 1191)"><rect x="-110" width="220" height="71"/><text y="22">X[5] &lt;= 8.0569</text><text y="42">entropy = 0.475554748556</text><text y="62">samples = 18</text></g>
<g id="DY" transform="translate(4409 1191)"><rect x="-106" width="212" height="71"/><text y="22">X[2] &lt;= -1.2812</text><text y="42">entropy = 0.22606185131</text><text y="62">samples = 17</text></g>
<g id="DZ" transform="translate(4656.5 1191)"><rect x="-117.5" width="235" height="71"/><text y="22">entropy = -0.0000</text><text y="42">samples = 3</text><text y="62">value = [ 0.7550097  0.       ]</text></g>
<g id="EA" transform="translate(4923 1191)"><rect x="-123" width="246" height="71"/><text y="22">entropy = 0.0000</text><text y="42">samples = 18</text><text y="62">value = [ 4.53005818  0.        ]</text></g>
<g id="EB" transform="translate(5193.5 1191)"><rect x="-123.5" width="247" height="71"/><text y="22">entropy = 0.0000</text><text y="42">samples = 1</text><text y="62">value = [ 0.          1.81124758]</text></g>
<g id="EC" transform="translate(5454.5 1191)"><rect x="-111.5" width="223" height="71"/><text y="22">X[6] &lt;= 2.7432</text><text y="42">entropy = 0.124669029007</text><text y="62">samples = 5</text></g>
<g id="ED" transform="translate(5714.5 1191)"><rect x="-124.5" width="249" height="71"/><text y="22">entropy = 0.0000</text><text y="42">samples = 3</text><text y="62">value = [ 1.13251454  0.        ]</text></g>
<g id="FN" transform="translate(5986 1191)"><rect x="-124" width="248" height="71"/><text y="22">entropy = 0.0000</text><text y="42">samples = 1</text><text y="62">value = [ 0.18875242  0.        ]</text></g>
<g id="FO" transform="translate(6259 1191)"><rect x="-124" width="248" height="71"/><text y="22">entropy = 0.0000</text><text y="42">samples = 1</text><text y="62">value = [ 0.          3.62249515]</text></g>
<g id="FP" transform="translate(6586 1191)"><rect x="-124" width="248" height="71"/><text y="22">entropy = 0.0000</text><text y="42">samples = 9</text><text y="62">value = [ 3.20879121  0.        ]</text></g>
<g id="FQ" transform="translate(6857.5 1191)"><rect x="-123.5" width="247" height="71"/><text y="22">entropy = 0.0000</text><text y="42">samples = 1</text><text y="62">value = [ 0.          1.81124758]</text></g>
<g id="FR" transform="translate(7242.5 1191)"><rect x="-123.5" width="247" height="71"/><text y="22">entropy = 0.0000</text><text y="42">samples = 1</text><text y="62">value = [ 0.18875242  0.        ]</text></g>
<g id="FS" transform="translate(7514 1191)"><rect x="-124" width="248" height="71"/><text y="22">entropy = 0.0000</text><text y="42">samples = 3</text><text y="62">value = [ 0.          5.43374273]</text></g>
<g id="AJ" transform="translate(1942 1309.65)"><rect x="-124" width="248" height="71"/><text y="22">entropy = 0.0000</text><text y="42">samples = 1</text><text y="62">value = [ 0.18875242  0.        ]</text></g>
<g id="CF" transform="translate(2214 1309.65)"><rect x="-124" width="248" height="71"/><text y="22">entropy = -0.0000</text><text y="42">samples = 2</text><text y="62">value = [ 0.          3.62249515]</text></g>
<g id="CG" transform="translate(2594 1309.65)"><rect x="-106" width="212" height="71"/><text y="22">X[2] &lt;= 6.2715</text><text y="42">entropy = 0.18891479003</text><text y="62">samples = 4</text></g>
<g id="CH" transform="translate(2866 1309.65)"><rect x="-111" width="222" height="71"/><text y="22">X[5] &lt;= 11.7532</text><text y="42">entropy = 0.735091996579</text><text y="62">samples = 14</text></g>
<g id="EE" transform="translate(4282.5 1309.65)"><rect x="-111.5" width="223" height="71"/><text y="22">X[9] &lt;= 21.0359</text><text y="42">entropy = 0.927249455402</text><text y="62">samples = 5</text></g>
<g id="EF" transform="translate(4535.5 1309.65)"><rect x="-110.5" width="221" height="71"/><text y="22">X[7] &lt;= 19.9892</text><text y="42">entropy = 0.110356705668</text><text y="62">samples = 12</text></g>
<g id="EG" transform="translate(5315 1309.65)"><rect x="-124" width="248" height="71"/><text y="22">entropy = 0.0000</text><text y="42">samples = 1</text><text y="62">value = [ 0.18875242  0.        ]</text></g>
<g id="EH" transform="translate(5593.5 1309.65)"><rect x="-130.5" width="261" height="71"/><text y="22">entropy = 0.0000</text><text y="42">samples = 4</text><text y="62">value = [  0.          10.86748546]</text></g>
<g id="CI" transform="translate(2314.5 1428.3)"><rect x="-130.5" width="261" height="71"/><text y="22">entropy = 0.0000</text><text y="42">samples = 3</text><text y="62">value = [  0.          12.67873303]</text></g>
<g id="CJ" transform="translate(2594.5 1428.3)"><rect x="-123.5" width="247" height="71"/><text y="22">entropy = -0.0000</text><text y="42">samples = 1</text><text y="62">value = [ 0.37750485  0.        ]</text></g>
<g id="CK" transform="translate(2866 1428.3)"><rect x="-122" width="244" height="71"/><text y="22">entropy = 0.0000</text><text y="42">samples = 7</text><text y="62">value = [ 1.32126697  0.        ]</text></g>
<g id="CL" transform="translate(3126 1428.3)"><rect x="-111" width="222" height="71"/><text y="22">X[7] &lt;= 5.4746</text><text y="42">entropy = 0.375157267225</text><text y="62">samples = 7</text></g>
<g id="EI" transform="translate(4029 1428.3)"><rect x="-111" width="222" height="71"/><text y="22">X[7] &lt;= 44.4464</text><text y="42">entropy = 0.450910769465</text><text y="62">samples = 2</text></g>
<g id="EJ" transform="translate(4282.5 1428.3)"><rect x="-116.5" width="233" height="71"/><text y="22">entropy = 0.0000</text><text y="42">samples = 3</text><text y="62">value = [ 0.7550097  0.       ]</text></g>
<g id="EK" transform="translate(4535.5 1428.3)"><rect x="-110.5" width="221" height="71"/><text y="22">X[4] &lt;= 3.1535</text><text y="42">entropy = 0.284376188578</text><text y="62">samples = 6</text></g>
<g id="EL" transform="translate(4801.5 1428.3)"><rect x="-130.5" width="261" height="71"/><text y="22">entropy = 0.0000</text><text y="42">samples = 6</text><text y="62">value = [  0.          27.16871364]</text></g>
<g id="CM" transform="translate(2995.5 1546.95)"><rect x="-123.5" width="247" height="71"/><text y="22">entropy = 0.0000</text><text y="42">samples = 1</text><text y="62">value = [ 0.18875242  0.        ]</text></g>
<g id="CN" transform="translate(3255.5 1546.95)"><rect x="-111.5" width="223" height="71"/><text y="22">X[3] &lt;= 3.0011</text><text y="42">entropy = 0.284376188578</text><text y="62">samples = 6</text></g>
<g id="CO" transform="translate(3813 1546.95)"><rect x="-124" width="248" height="71"/><text y="22">entropy = 0.0000</text><text y="42">samples = 1</text><text y="62">value = [ 0.          1.81124758]</text></g>
<g id="EM" transform="translate(4085.5 1546.95)"><rect x="-123.5" width="247" height="71"/><text y="22">entropy = -0.0000</text><text y="42">samples = 1</text><text y="62">value = [ 0.18875242  0.        ]</text></g>
<g id="EN" transform="translate(4478 1546.95)"><rect x="-131" width="262" height="71"/><text y="22">entropy = 0.0000</text><text y="42">samples = 4</text><text y="62">value = [  0.          10.86748546]</text></g>
<g id="EO" transform="translate(4758 1546.95)"><rect x="-124" width="248" height="71"/><text y="22">entropy = 0.0000</text><text y="42">samples = 2</text><text y="62">value = [ 0.56625727  0.        ]</text></g>
<g id="CP" transform="translate(3125.5 1665.6)"><rect x="-111.5" width="223" height="71"/><text y="22">X[0] &lt;= 1.2312</text><text y="42">entropy = 0.663335100757</text><text y="62">samples = 3</text></g>
<g id="CQ" transform="translate(3384.5 1665.6)"><rect x="-124.5" width="249" height="71"/><text y="22">entropy = -0.0000</text><text y="42">samples = 3</text><text y="62">value = [ 0.          5.43374273]</text></g>
<g id="CR" transform="translate(2988.5 1784.25)"><rect x="-123.5" width="247" height="71"/><text y="22">entropy = 0.0000</text><text y="42">samples = 2</text><text y="62">value = [ 0.37750485  0.        ]</text></g>
<g id="CS" transform="translate(3260 1784.25)"><rect x="-124" width="248" height="71"/><text y="22">entropy = 0.0000</text><text y="42">samples = 1</text><text y="62">value = [ 0.          1.81124758]</text></g>
</g>
</svg>
